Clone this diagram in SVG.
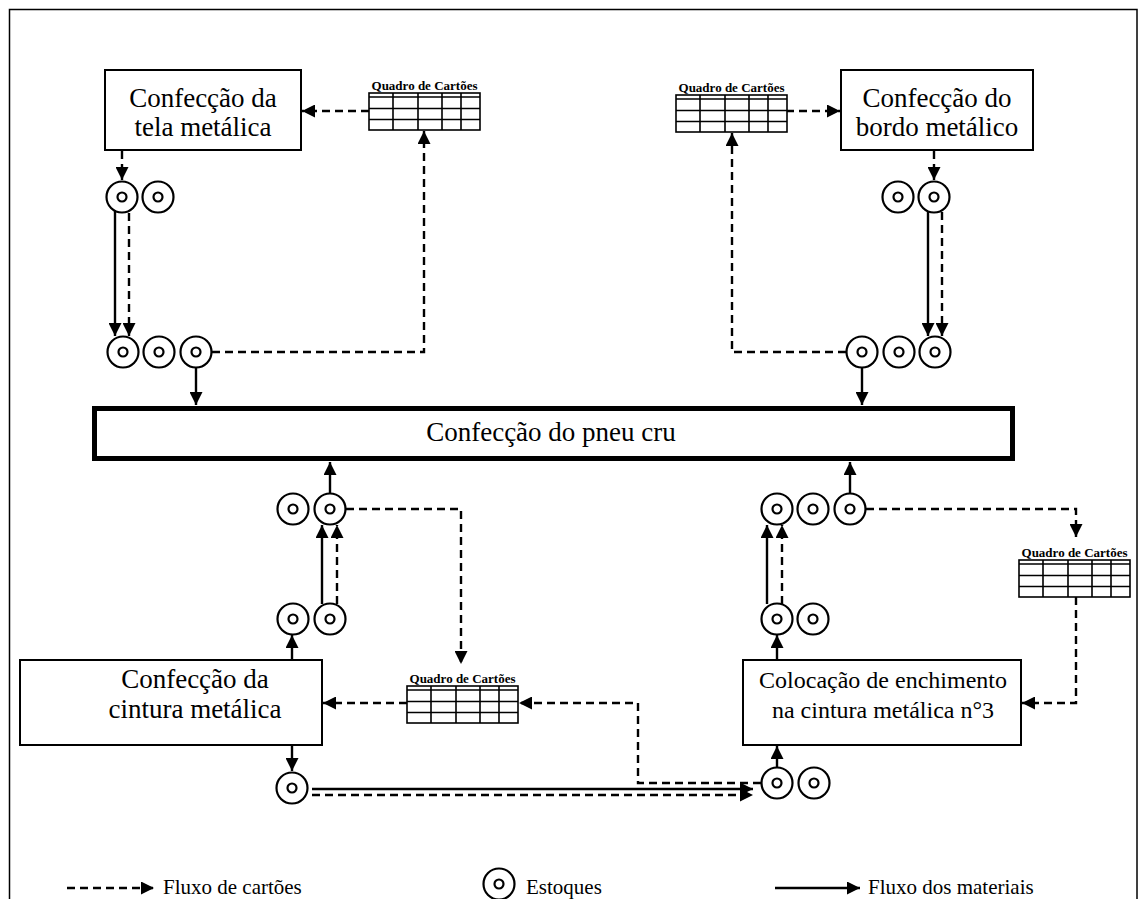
<svg xmlns="http://www.w3.org/2000/svg" width="1147" height="899" viewBox="0 0 1147 899">
  <style>
    .box { fill: #fff; stroke: #000; stroke-width: 2; }
    .main { fill: #fff; stroke: #000; stroke-width: 5; }
    .lbl { font-family: "Liberation Serif", "Times New Roman", serif; font-size: 27px; text-anchor: middle; fill: #000; }
    .lbl-s { font-family: "Liberation Serif", "Times New Roman", serif; font-size: 24px; text-anchor: middle; fill: #000; }
    .qt { font-family: "Liberation Serif", "Times New Roman", serif; font-size: 13px; font-weight: bold; text-anchor: middle; fill: #000; }
    .leg { font-family: "Liberation Serif", "Times New Roman", serif; font-size: 21px; fill: #000; }
    .solid { fill: none; stroke: #000; stroke-width: 2.4; marker-end: url(#ah); }
    .dash { fill: none; stroke: #000; stroke-width: 2.4; stroke-dasharray: 8 5; marker-end: url(#ah); }
    .ring { fill: #fff; stroke: #000; stroke-width: 2.2; }
    .grid { fill: #fff; stroke: #000; stroke-width: 1.6; }
  </style>
  <defs>
    <marker id="ah" markerUnits="userSpaceOnUse" markerWidth="14" markerHeight="13" refX="13" refY="6.5" orient="auto">
      <path d="M0,0 L13,6.5 L0,13 z" fill="#000"/>
    </marker>
    <!-- stock symbol: double circle -->
    <g id="stock">
      <circle class="ring" r="15.5"/>
      <circle class="ring" r="4.5"/>
    </g>
    <!-- kanban board grid -->
    <g id="board">
      <rect class="grid" x="0" y="0" width="111" height="37"/>
      <path d="M0,4 H111 M0,15.5 H111 M0,26.5 H111 M24,0 V37 M49,0 V37 M73,0 V37 M92,0 V37" stroke="#000" stroke-width="1.6" fill="none"/>
    </g>
  </defs>

  <rect width="1147" height="899" fill="#fff"/>
  <!-- frame -->
  <rect x="9.5" y="9.5" width="1127.5" height="905" fill="none" stroke="#000" stroke-width="1.5"/>

  <!-- connectors -->
  <g id="connectors">
    <!-- top left -->
    <path class="dash" d="M369,111 H302"/>
    <path class="dash" d="M122,151 V180"/>
    <path class="solid" d="M115,211 V336"/>
    <path class="dash" d="M129,213 V336"/>
    <path class="dash" d="M212,352 H424 V131"/>
    <path class="solid" d="M196,368 V405"/>
    <!-- top right -->
    <path class="dash" d="M786,111 H840"/>
    <path class="dash" d="M934,151 V180"/>
    <path class="solid" d="M928,212 V336"/>
    <path class="dash" d="M942,212 V336"/>
    <path class="dash" d="M846,352 H732 V133"/>
    <path class="solid" d="M862,368 V405"/>
    <!-- bottom left -->
    <path class="solid" d="M330,493 V462"/>
    <path class="solid" d="M322,604 V525"/>
    <path class="dash" d="M337,604 V525"/>
    <path class="dash" d="M346,509 H461 V664"/>
    <path class="dash" d="M407,703 H323"/>
    <path class="solid" d="M292,659 V635"/>
    <path class="solid" d="M292,746 V771"/>
    <path class="solid" d="M312,789 H753"/>
    <path class="dash" d="M312,795 H753"/>
    <!-- bottom right -->
    <path class="solid" d="M850,493 V462"/>
    <path class="solid" d="M767,604 V525"/>
    <path class="dash" d="M782,604 V525"/>
    <path class="dash" d="M866,509 H1076 V537"/>
    <path class="dash" d="M1076,597 V703 H1022"/>
    <path class="solid" d="M777,659 V635"/>
    <path class="solid" d="M777,767 V746"/>
    <path class="dash" d="M761,783 H638 V703 H519"/>
  </g>

  <!-- process boxes -->
  <g id="tela">
    <rect class="box" x="105" y="70" width="196" height="80"/>
    <text class="lbl" x="203" y="107">Confecção da</text>
    <text class="lbl" x="203" y="136">tela metálica</text>
  </g>
  <g id="bordo">
    <rect class="box" x="841" y="70" width="192" height="80"/>
    <text class="lbl" x="937" y="107">Confecção do</text>
    <text class="lbl" x="937" y="136">bordo metálico</text>
  </g>
  <g id="pneu">
    <rect class="main" x="94.5" y="408.5" width="918" height="50"/>
    <text class="lbl" x="551" y="441">Confecção do pneu cru</text>
  </g>
  <g id="cintura">
    <rect class="box" x="20" y="660" width="302" height="85"/>
    <text class="lbl" x="195" y="688">Confecção da</text>
    <text class="lbl" x="195" y="718">cintura metálica</text>
  </g>
  <g id="enchimento">
    <rect class="box" x="743" y="660" width="278" height="85"/>
    <text class="lbl-s" x="883" y="688">Colocação de enchimento</text>
    <text class="lbl-s" x="883" y="718">na cintura metálica n°3</text>
  </g>

  <!-- kanban boards -->
  <g id="quadro-tl">
    <text class="qt" x="424.5" y="90">Quadro de Cartões</text>
    <use href="#board" x="369" y="93"/>
  </g>
  <g id="quadro-tr">
    <text class="qt" x="731.5" y="92">Quadro de Cartões</text>
    <use href="#board" x="676" y="95"/>
  </g>
  <g id="quadro-bl">
    <text class="qt" x="462.5" y="683">Quadro de Cartões</text>
    <use href="#board" x="407" y="686"/>
  </g>
  <g id="quadro-br">
    <text class="qt" x="1074.5" y="557">Quadro de Cartões</text>
    <use href="#board" x="1019" y="560"/>
  </g>

  <!-- stocks -->
  <g id="stocks-tl">
    <use href="#stock" x="122" y="197"/>
    <use href="#stock" x="158" y="197"/>
    <use href="#stock" x="123" y="352"/>
    <use href="#stock" x="159" y="352"/>
    <use href="#stock" x="196" y="352"/>
  </g>
  <g id="stocks-tr">
    <use href="#stock" x="898" y="197"/>
    <use href="#stock" x="934" y="197"/>
    <use href="#stock" x="862" y="352"/>
    <use href="#stock" x="899" y="352"/>
    <use href="#stock" x="935" y="352"/>
  </g>
  <g id="stocks-bl">
    <use href="#stock" x="293" y="509"/>
    <use href="#stock" x="330" y="509"/>
    <use href="#stock" x="293" y="619"/>
    <use href="#stock" x="330" y="619"/>
    <use href="#stock" x="292" y="788"/>
  </g>
  <g id="stocks-br">
    <use href="#stock" x="777" y="509"/>
    <use href="#stock" x="813" y="509"/>
    <use href="#stock" x="850" y="509"/>
    <use href="#stock" x="777" y="619"/>
    <use href="#stock" x="813" y="619"/>
    <use href="#stock" x="777" y="783"/>
    <use href="#stock" x="814" y="783"/>
  </g>

  <!-- legend -->
  <g id="legend">
    <path class="dash" d="M67,888 H154"/>
    <text class="leg" x="163" y="894">Fluxo de cartões</text>
    <use href="#stock" x="499" y="884"/>
    <text class="leg" x="526" y="894">Estoques</text>
    <path class="solid" d="M775,888 H860"/>
    <text class="leg" x="868" y="894">Fluxo dos materiais</text>
  </g>
</svg>
